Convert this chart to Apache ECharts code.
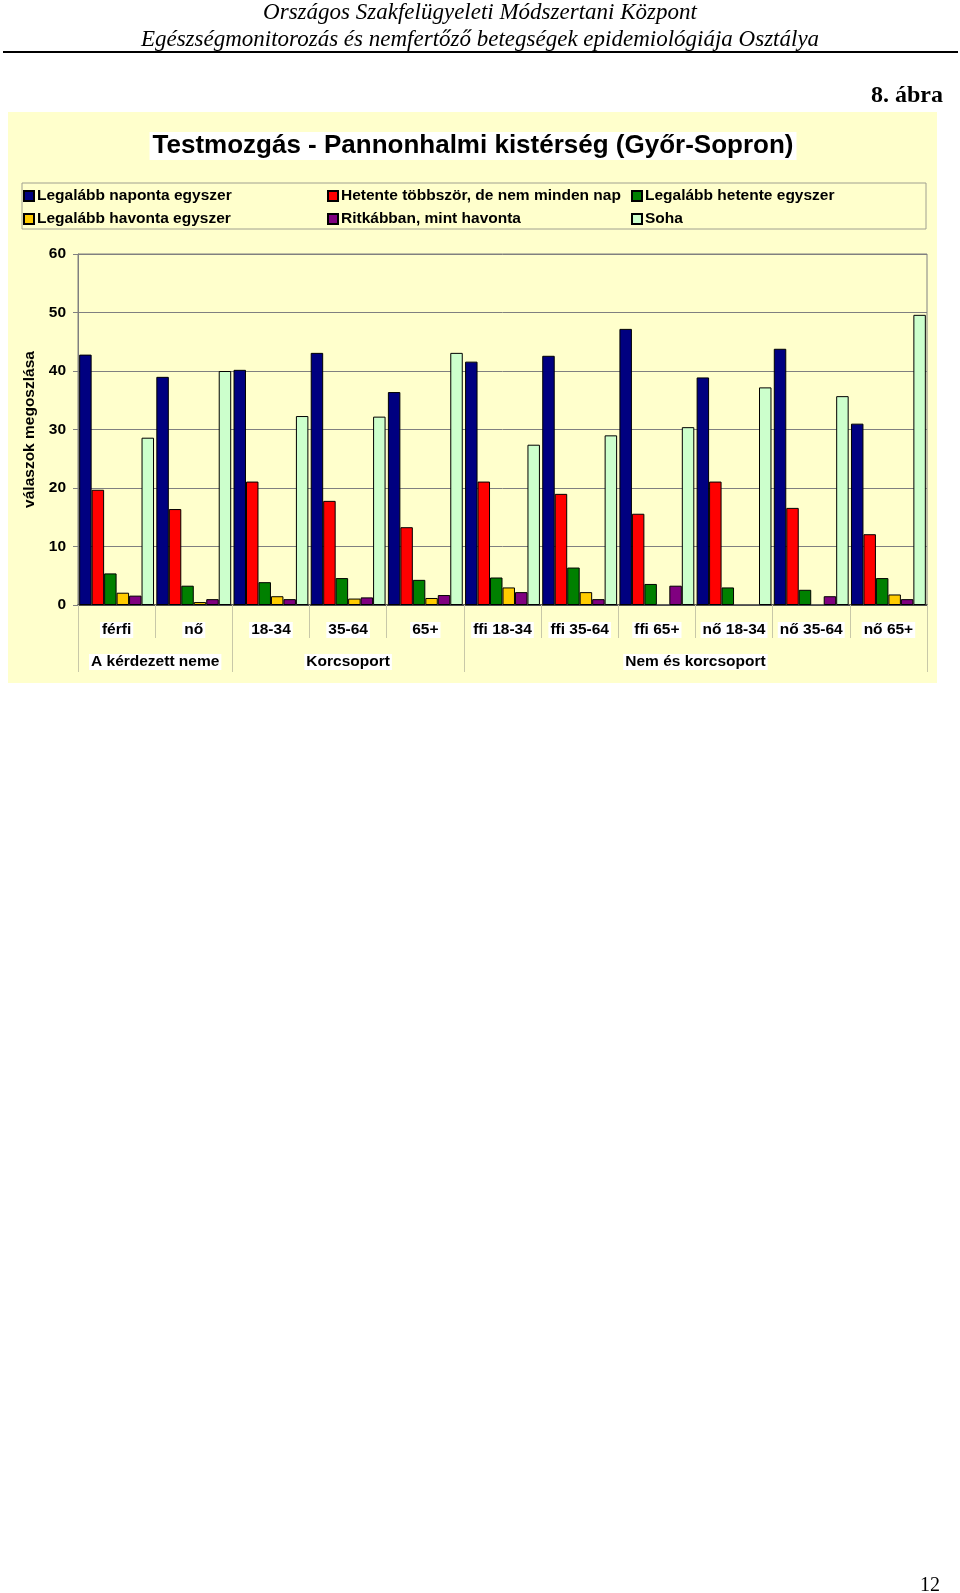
<!DOCTYPE html>
<html>
<head>
<meta charset="utf-8">
<script src="https://cdn.jsdelivr.net/npm/echarts@6/dist/echarts.min.js"></script>
<style>
html,body{margin:0;padding:0;background:#fff;}
#c{width:960px;height:1593px;}
</style>
</head>
<body>
<div id="c"></div>
<script>
const categories = ['férfi','nő','18-34','35-64','65+','ffi 18-34','ffi 35-64','ffi 65+','nő 18-34','nő 35-64','nő 65+'];
const groupNames = ['A kérdezett neme','Korcsoport','Nem és korcsoport'];
const groupBounds = [0, 2, 5, 11];
const yTicks = [0, 10, 20, 30, 40, 50, 60];

const seriesNames = ['Legalább naponta egyszer','Hetente többször, de nem minden nap','Legalább hetente egyszer','Legalább havonta egyszer','Ritkábban, mint havonta','Soha'];
const naponta   = [42.8, 39.0, 40.2, 43.1, 36.4, 41.6, 42.6, 47.2, 38.9, 43.8, 31.0];
const hetenteTobb = [19.7, 16.4, 21.1, 17.8, 13.3, 21.1, 19.0, 15.6, 21.1, 16.6, 12.1];
const hetente   = [5.4, 3.3, 3.9, 4.6, 4.3, 4.7, 6.4, 3.6, 3.0, 2.6, 4.6];
const havonta   = [2.1, 0.5, 1.5, 1.1, 1.2, 3.0, 2.2, 0, 0, 0, 1.8];
const ritkabban = [1.6, 1.0, 1.0, 1.3, 1.7, 2.2, 1.0, 3.3, 0, 1.5, 1.0];
const soha      = [28.6, 40.0, 32.3, 32.2, 43.1, 27.4, 29.0, 30.4, 37.2, 35.7, 49.6];
const seriesData = [naponta, hetenteTobb, hetente, havonta, ritkabban, soha];
const colors = ['#000080','#FF0000','#008000','#FFCC00','#800080','#CCFFCC'];

const chart = echarts.init(document.getElementById('c'), null, {renderer:'canvas'});
const SANS = '"Liberation Sans", Arial, sans-serif';
const SERIF = '"Liberation Serif", "Times New Roman", serif';
const FS = 15.5;

const legendCols = [[0,3],[1,4],[2,5]];
const legendX = [23, 327, 631];
const legends = legendCols.map((col, i) => ({
  data: col.map(k => seriesNames[k]),
  orient: 'vertical',
  left: legendX[i],
  top: 188,
  padding: 0,
  itemGap: 7,
  itemWidth: 10,
  itemHeight: 10,
  icon: 'rect',
  selectedMode: false,
  textStyle: {fontFamily: SANS, fontWeight: 'bold', fontSize: FS, color: '#000', padding: [0,0,0,-2]}
}));

const option = {
  backgroundColor: '#ffffff',
  animation: false,
  color: colors,
  graphic: [
    {type:'text', left:'center', top:1, style:{text:'Országos Szakfelügyeleti Módszertani Központ', font:'italic 23px ' + SERIF, fill:'#000'}},
    {type:'text', left:'center', top:28, style:{text:'Egészségmonitorozás és nemfertőző betegségek epidemiológiája Osztálya', font:'italic 23px ' + SERIF, fill:'#000'}},
    {type:'line', shape:{x1:3, y1:52, x2:958, y2:52}, style:{stroke:'#000', lineWidth:2}},
    {type:'text', right:17, top:84, style:{text:'8. ábra', font:'bold 24px ' + SERIF, fill:'#000'}},
    {type:'rect', z:-10, shape:{x:8, y:112, width:929, height:571}, style:{fill:'#FFFFCC'}},
    {type:'text', x:473, y:146, style:{text:'Testmozgás - Pannonhalmi kistérség (Győr-Sopron)', font:'bold 26px ' + SANS, fill:'#000', align:'center', verticalAlign:'middle', backgroundColor:'#ffffff', padding:[1,3]}},
    {type:'rect', z:-5, shape:{x:22, y:183, width:904, height:46}, style:{fill:'none', stroke:'#A0A090', lineWidth:1}},
    {type:'text', x:930, y:1586, style:{text:'12', font:'20px ' + SERIF, fill:'#000', align:'center', verticalAlign:'middle'}}
  ],
  legend: legends,
  grid: {left:78, right:33, top:254, height:351, show:true, borderColor:'#808080', borderWidth:1, backgroundColor:'transparent'},
  xAxis: [
    {
      type:'category', data: categories, position:'bottom',
      axisLine:{show:true, lineStyle:{color:'#404040', width:1.5}},
      axisTick:{show:true, interval:0, length:33, lineStyle:{color:'#C8C8A8'}},
      axisLabel:{interval:0, margin:17, fontFamily:SANS, fontWeight:'bold', fontSize:FS, color:'#000', backgroundColor:'#ffffff', padding:[0,2]}
    },
    {
      type:'value', min:0, max:11, position:'bottom', gridIndex:0,
      axisLine:{show:false},
      splitLine:{show:false},
      axisTick:{show:true, customValues: groupBounds, length:67, lineStyle:{color:'#C8C8A8'}},
      axisLabel:{
        customValues: groupBounds.slice(0,-1).map((b,i) => (b + groupBounds[i+1]) / 2),
        formatter: v => { for (let i = 0; i < groupNames.length; i++) { if (v > groupBounds[i] && v < groupBounds[i+1]) return groupNames[i]; } return ''; },
        margin:49, fontFamily:SANS, fontWeight:'bold', fontSize:FS, color:'#000', backgroundColor:'#ffffff', padding:[0,2]
      }
    }
  ],
  yAxis: {
    type:'value', min: yTicks[0], max: yTicks[yTicks.length-1], interval:10,
    name:'válaszok megoszlása', nameLocation:'middle', nameRotate:90, nameGap:37,
    nameTextStyle:{fontFamily:SANS, fontWeight:'bold', fontSize:FS, color:'#000'},
    axisLine:{show:true, lineStyle:{color:'#808080'}},
    axisTick:{show:true, length:5, lineStyle:{color:'#808080'}},
    axisLabel:{margin:12, fontFamily:SANS, fontWeight:'bold', fontSize:FS, color:'#000'},
    splitLine:{show:true, lineStyle:{color:'#808080', width:1}}
  },
  series: seriesData.map((d, i) => ({
    name: seriesNames[i], type:'bar', xAxisIndex:0,
    data: d.map(v => v === 0 ? {value: v, itemStyle:{borderWidth:0}} : v),
    barGap:'0%', barCategoryGap:'3%',
    itemStyle:{color: colors[i], borderColor:'#000', borderWidth:1}
  }))
};
chart.setOption(option);
</script>
</body>
</html>
